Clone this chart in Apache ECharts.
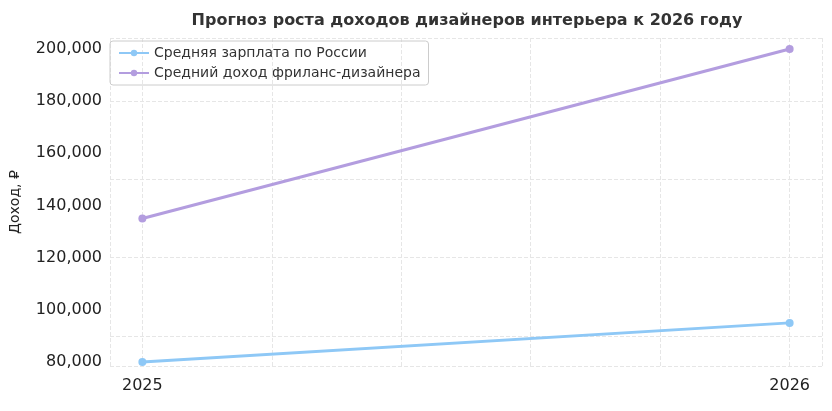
<!DOCTYPE html>
<html lang="ru">
<head>
<meta charset="UTF-8">
<title>Прогноз роста доходов</title>
<script src="https://cdn.jsdelivr.net/npm/echarts@6/dist/echarts.min.js"></script>
<style>body{margin:0;background:#fff}</style>
</head>
<body>
<div id="main" style="width:832px;height:411px"></div>
<script>
// данные
var years = [2025, 2026];
var avgSalary = [80000, 95000];
var freelance = [135000, 200000];
var yTicks = [80000, 100000, 120000, 140000, 160000, 180000, 200000];

var chart = echarts.init(document.getElementById('main'));
var font = 'DejaVu Sans';

function mk(name, vals, color) {
    return {
        name: name,
        type: 'line',
        data: years.map(function (y, i) { return [y, vals[i]]; }),
        symbol: 'circle',
        symbolSize: 8,
        lineStyle: { width: 3, color: color },
        itemStyle: { color: color },
        animation: false
    };
}

chart.setOption({
    textStyle: { fontFamily: font },
    title: {
        text: 'Прогноз роста доходов дизайнеров интерьера к 2026 году',
        left: 462, top: 8, textAlign: 'center',
        textStyle: { fontSize: 16, fontWeight: 'bold', color: '#333', fontFamily: font }
    },
    legend: {
        left: 110, top: 41, orient: 'vertical',
        itemWidth: 30, itemHeight: 8, itemGap: 6,
        padding: [5, 8], borderColor: '#ccc', borderWidth: 1, borderRadius: 3,
        textStyle: { fontSize: 14, color: '#333', fontFamily: font }
    },
    grid: { left: 102, right: 10, top: 38, bottom: 45 },
    xAxis: {
        type: 'value', min: 2024.95, max: 2026.05,
        axisLine: { show: false }, axisTick: { show: false },
        axisLabel: { customValues: years, fontSize: 16, color: '#222', margin: 12, formatter: function (v) { return String(v); } },
        splitLine: { show: true, lineStyle: { type: 'dashed', color: '#e6e6e6' } }
    },
    yAxis: {
        type: 'value', min: 78470, max: 204200,
        name: 'Доход, ₽', nameLocation: 'middle', nameGap: 88, nameRotate: 90,
        nameTextStyle: { fontSize: 14, color: '#222' },
        axisLine: { show: false }, axisTick: { show: false },
        axisLabel: { customValues: yTicks, fontSize: 16, color: '#222', margin: 8 },
        splitLine: { show: true, lineStyle: { type: 'dashed', color: '#e6e6e6' } }
    },
    series: [
        mk('Средняя зарплата по России', avgSalary, '#8ec8f6'),
        mk('Средний доход фриланс-дизайнера', freelance, '#b39ddf')
    ]
});
</script>
</body>
</html>
